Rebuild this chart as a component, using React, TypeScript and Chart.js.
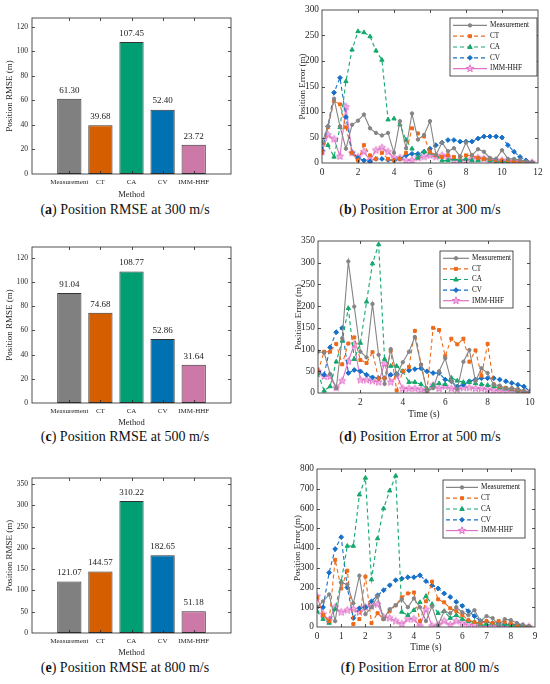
import { useEffect, useRef } from 'react';
import { Chart, registerables } from 'chart.js';

Chart.register(...registerables);

// ---------- data ----------
const methods = ['Measurement', 'CT', 'CA', 'CV', 'IMM-HHF'];
const rmse300 = [61.3, 39.68, 107.45, 52.4, 23.72];
const rmse500 = [91.04, 74.68, 108.77, 52.86, 31.64];
const rmse800 = [121.07, 144.57, 310.22, 182.65, 51.18];

const time300 = [0, 0.33, 0.67, 1, 1.33, 1.67, 2, 2.33, 2.67, 3, 3.33, 3.67, 4, 4.33, 4.67, 5, 5.33, 5.67, 6, 6.33, 6.67, 7, 7.33, 7.67, 8, 8.33, 8.67, 9, 9.33, 9.67, 10, 10.33, 10.67, 11, 11.33, 11.67];
const meas300 = [39, 72, 126, 72, 28, 75, 83, 95, 68, 59, 54, 59, 20, 82, 29, 97, 46, 55, 82, 16, 40, 23, 29, 13, 40, 15, 27, 22, 10, 8, 25, 8, 8, 6, 3, 1];
const ct300 = [20, 70, 122, 115, 70, 20, 5, 35, 15, 8, 20, 8, 5, 8, 20, 68, 58, 52, 22, 15, 12, 15, 12, 12, 15, 15, 10, 8, 8, 5, 5, 5, 3, 3, 2, 1];
const ca300 = [40, 35, 12, 70, 160, 222, 258, 256, 248, 220, 202, 85, 87, 75, 45, 28, 10, 22, 20, 15, 5, 5, 8, 5, 8, 5, 5, 8, 5, 3, 3, 2, 2, 2, 1, 1];
const cv300 = [25, 72, 138, 167, 90, 20, 10, 5, 3, 8, 8, 6, 5, 8, 15, 18, 18, 22, 28, 35, 40, 45, 45, 42, 42, 42, 48, 52, 52, 52, 50, 35, 22, 12, 5, 1];
const imm300 = [22, 55, 47, 13, 110, 20, 12, 22, 5, 25, 30, 22, 10, 10, 5, 5, 10, 12, 15, 12, 15, 12, 5, 5, 5, 8, 10, 8, 5, 5, 5, 4, 3, 2, 2, 1];

const time500 = [0, 0.29, 0.57, 0.86, 1.14, 1.43, 1.71, 2, 2.29, 2.57, 2.86, 3.14, 3.43, 3.71, 4, 4.29, 4.57, 4.86, 5.14, 5.43, 5.71, 6, 6.29, 6.57, 6.86, 7.14, 7.43, 7.71, 8, 8.29, 8.57, 8.86, 9.14, 9.43, 9.71, 10];
const meas500 = [95, 93, 44, 11, 126, 303, 199, 95, 82, 205, 88, 21, 101, 42, 71, 95, 129, 65, 4, 11, 50, 80, 27, 9, 72, 99, 27, 57, 46, 19, 17, 11, 11, 9, 5, 2];
const ct500 = [50, 95, 95, 113, 66, 114, 128, 76, 69, 94, 33, 34, 97, 6, 50, 60, 143, 65, 4, 150, 145, 85, 125, 112, 125, 72, 98, 40, 113, 20, 15, 12, 10, 8, 3, 1];
const ca500 = [45, 5, 15, 72, 120, 195, 78, 115, 210, 298, 342, 78, 62, 62, 50, 25, 25, 20, 10, 18, 22, 20, 35, 28, 25, 25, 22, 20, 18, 15, 12, 10, 8, 5, 3, 1];
const cv500 = [50, 42, 105, 140, 150, 46, 53, 50, 42, 36, 34, 34, 42, 44, 50, 52, 55, 57, 50, 46, 46, 31, 27, 15, 19, 27, 31, 34, 34, 34, 31, 27, 23, 19, 15, 4];
const imm500 = [50, 38, 38, 12, 28, 73, 112, 30, 30, 28, 25, 68, 25, 40, 10, 10, 10, 8, 5, 18, 10, 15, 10, 8, 12, 12, 10, 10, 8, 6, 5, 5, 4, 3, 2, 1];

const time800 = [0, 0.25, 0.5, 0.75, 1, 1.25, 1.5, 1.75, 2, 2.25, 2.5, 2.75, 3, 3.25, 3.5, 3.75, 4, 4.25, 4.5, 4.75, 5, 5.25, 5.5, 5.75, 6, 6.25, 6.5, 6.75, 7, 7.25, 7.5, 7.75, 8, 8.25, 8.5, 8.75];
const meas800 = [100, 130, 165, 30, 225, 215, 120, 260, 65, 100, 155, 40, 90, 110, 140, 100, 145, 100, 30, 105, 10, 80, 70, 100, 75, 60, 85, 30, 55, 45, 10, 40, 35, 20, 10, 5];
const ct800 = [150, 60, 30, 340, 195, 285, 15, 40, 255, 20, 70, 40, 80, 110, 150, 170, 175, 30, 130, 230, 140, 125, 95, 80, 60, 35, 25, 20, 30, 20, 30, 25, 20, 10, 5, 2];
const ca800 = [80, 40, 20, 90, 230, 410, 410, 670, 755, 240, 448, 600, 690, 765, 76, 60, 85, 125, 156, 115, 70, 80, 45, 60, 40, 30, 25, 15, 15, 20, 15, 15, 10, 8, 5, 2];
const cv800 = [100, 100, 275, 395, 455, 200, 45, 95, 100, 130, 160, 186, 211, 237, 245, 252, 252, 262, 232, 211, 195, 170, 152, 127, 107, 80, 55, 30, 25, 20, 20, 15, 15, 12, 10, 3];
const imm800 = [155, 65, 35, 100, 75, 85, 90, 75, 100, 105, 115, 50, 45, 30, 15, 40, 40, 5, 90, 5, 10, 30, 10, 30, 20, 10, 10, 5, 5, 8, 5, 3, 8, 5, 3, 1];

// ---------- styling ----------
const FONT = '"Liberation Serif", "Times New Roman", serif';
const INK = '#262626';
const barColors = ['#808080', '#D55E00', '#009E73', '#0072B2', '#CC79A7'];
const lineStyles = [
  { color: '#858585', dash: [] as number[], point: 'circle', r: 1.7 },
  { color: '#EE6A1A', dash: [4, 3], point: 'rect', r: 2.1 },
  { color: '#14A86C', dash: [4, 3], point: 'triangle', r: 2.5 },
  { color: '#1670C8', dash: [4, 3], point: 'rectRot', r: 2.4 },
  { color: '#E070C8', dash: [] as number[], point: 'star', r: 3.8 },
];

function starPath(g: CanvasRenderingContext2D, cx: number, cy: number, r: number) {
  g.beginPath();
  for (let k = 0; k < 10; k++) {
    const rr = k % 2 ? r * 0.42 : r;
    const ang = -Math.PI / 2 + (k * Math.PI) / 5;
    const px = cx + rr * Math.cos(ang);
    const py = cy + rr * Math.sin(ang);
    if (k) g.lineTo(px, py);
    else g.moveTo(px, py);
  }
  g.closePath();
}

function makeStar(color: string, r: number) {
  const s = Math.ceil(r * 2 + 3);
  const c = document.createElement('canvas');
  c.width = s;
  c.height = s;
  const g = c.getContext('2d')!;
  starPath(g, s / 2, s / 2, r);
  g.fillStyle = 'rgba(240,180,225,0.6)';
  g.fill();
  g.strokeStyle = color;
  g.lineWidth = 1;
  g.stroke();
  return c;
}

function drawMarker(ctx: CanvasRenderingContext2D, style: string, x: number, y: number, r: number, color: string) {
  ctx.save();
  ctx.fillStyle = color;
  ctx.strokeStyle = color;
  ctx.lineWidth = 1;
  ctx.setLineDash([]);
  if (style === 'star') {
    starPath(ctx, x, y, r);
    ctx.fillStyle = 'rgba(240,180,225,0.6)';
    ctx.fill();
    ctx.stroke();
  } else {
    ctx.beginPath();
    if (style === 'circle') ctx.arc(x, y, r, 0, Math.PI * 2);
    else if (style === 'rect') ctx.rect(x - r * 0.72, y - r * 0.72, r * 1.44, r * 1.44);
    else if (style === 'triangle') {
      ctx.moveTo(x, y - r);
      ctx.lineTo(x + r * 0.9, y + r * 0.6);
      ctx.lineTo(x - r * 0.9, y + r * 0.6);
      ctx.closePath();
    } else {
      ctx.moveTo(x, y - r);
      ctx.lineTo(x + r, y);
      ctx.lineTo(x, y + r);
      ctx.lineTo(x - r, y);
      ctx.closePath();
    }
    ctx.fill();
    ctx.stroke();
  }
  ctx.restore();
}

// box around the axes with inward tick marks, MATLAB style
const framePlugin = {
  id: 'frame',
  afterDraw(chart: any) {
    const { ctx, chartArea: a } = chart;
    const xs = chart.scales.x;
    const ys = chart.scales.y;
    ctx.save();
    ctx.strokeStyle = INK;
    ctx.lineWidth = 0.8;
    ctx.setLineDash([]);
    ctx.strokeRect(a.left, a.top, a.right - a.left, a.bottom - a.top);
    ctx.beginPath();
    for (const t of xs.ticks) {
      const p = Math.round(xs.getPixelForValue(t.value)) + 0.5;
      if (p <= a.left + 1 || p >= a.right - 1) continue;
      ctx.moveTo(p, a.bottom);
      ctx.lineTo(p, a.bottom - 3);
      ctx.moveTo(p, a.top);
      ctx.lineTo(p, a.top + 3);
    }
    for (const t of ys.ticks) {
      const p = Math.round(ys.getPixelForValue(t.value)) + 0.5;
      if (p <= a.top + 1 || p >= a.bottom - 1) continue;
      ctx.moveTo(a.left, p);
      ctx.lineTo(a.left + 3, p);
      ctx.moveTo(a.right, p);
      ctx.lineTo(a.right - 3, p);
    }
    ctx.stroke();
    ctx.restore();
  },
};

const barLabelPlugin = {
  id: 'barLabels',
  afterDatasetsDraw(chart: any) {
    const ctx = chart.ctx;
    const meta = chart.getDatasetMeta(0);
    const data = chart.data.datasets[0].data;
    ctx.save();
    ctx.font = `9px ${FONT}`;
    ctx.fillStyle = '#1a1a1a';
    ctx.textAlign = 'center';
    ctx.textBaseline = 'bottom';
    meta.data.forEach((bar: any, i: number) => {
      ctx.fillText(data[i].y.toFixed(2), bar.x, bar.y - 4);
    });
    ctx.restore();
  },
};

function boxLegend(l: { dx: number; dy: number; w: number; h: number; sample: number }) {
  return {
    id: 'boxLegend',
    afterDraw(chart: any) {
      const { ctx, chartArea: a } = chart;
      const x0 = a.right - l.dx - l.w;
      const y0 = a.top + l.dy;
      ctx.save();
      ctx.fillStyle = '#fff';
      ctx.fillRect(x0, y0, l.w, l.h);
      ctx.strokeStyle = INK;
      ctx.lineWidth = 0.8;
      ctx.strokeRect(x0, y0, l.w, l.h);
      const rowH = (l.h - 4) / 5;
      lineStyles.forEach((s, i) => {
        const cy = y0 + 2 + rowH * (i + 0.5);
        const sx = x0 + 3;
        const ex = sx + l.sample;
        ctx.strokeStyle = s.color;
        ctx.lineWidth = 1.2;
        ctx.setLineDash(s.dash);
        ctx.beginPath();
        ctx.moveTo(sx, cy);
        ctx.lineTo(ex, cy);
        ctx.stroke();
        drawMarker(ctx, s.point, (sx + ex) / 2, cy, s.r, s.color);
        ctx.fillStyle = '#111';
        ctx.font = `7.2px ${FONT}`;
        ctx.textAlign = 'left';
        ctx.textBaseline = 'middle';
        ctx.fillText(methods[i], ex + 3, cy);
      });
      ctx.restore();
    },
  };
}

function barConfig(values: number[], yMax: number, yStep: number, pad: { top: number; right: number }, yW: number, xH: number): any {
  return {
    type: 'bar',
    data: {
      datasets: [
        {
          data: methods.map((_, i) => ({ x: i + 1, y: values[i] })),
          backgroundColor: barColors,
          borderColor: '#333',
          borderWidth: 1,
          borderSkipped: false,
          barPercentage: 0.78,
          categoryPercentage: 1,
        },
      ],
    },
    options: {
      responsive: true,
      maintainAspectRatio: false,
      animation: false,
      events: [],
      layout: { padding: { top: pad.top, right: pad.right, left: 0, bottom: 0 } },
      plugins: { legend: { display: false }, tooltip: { enabled: false } },
      scales: {
        x: {
          type: 'linear',
          min: -0.2,
          max: 6.2,
          offset: false,
          grid: { display: false, drawTicks: false },
          border: { display: false },
          afterBuildTicks: (s: any) => {
            s.ticks = methods.map((_, i) => ({ value: i + 1 }));
          },
          ticks: {
            autoSkip: false,
            maxRotation: 0,
            padding: 4,
            color: INK,
            font: { family: FONT, size: 7 },
            callback: (v: number) => methods[v - 1] ?? '',
          },
          title: { display: true, text: 'Method', color: INK, font: { family: FONT, size: 8.6 }, padding: 0 },
          afterFit: (s: any) => {
            s.height = xH;
          },
        },
        y: {
          min: 0,
          max: yMax,
          grid: { display: false, drawTicks: false },
          border: { display: false },
          ticks: { stepSize: yStep, includeBounds: false, padding: 4, color: INK, font: { family: FONT, size: 7.5 } },
          title: { display: true, text: 'Position RMSE (m)', color: INK, font: { family: FONT, size: 9 }, padding: 2 },
          afterFit: (s: any) => {
            s.width = yW;
          },
        },
      },
    },
    plugins: [barLabelPlugin, framePlugin],
  };
}

function lineConfig(
  times: number[],
  series: number[][],
  xMax: number,
  yMax: number,
  yStep: number,
  hideZero: boolean,
  legend: { dx: number; dy: number; w: number; h: number; sample: number },
  pad: { top: number; right: number },
  yW: number,
  xH: number,
): any {
  return {
    type: 'line',
    data: {
      datasets: series.map((vals, k) => {
        const s = lineStyles[k];
        return {
          label: methods[k],
          data: times.map((t, i) => ({ x: t, y: vals[i] })),
          borderColor: s.color,
          backgroundColor: s.color,
          borderWidth: 1.1,
          borderDash: s.dash,
          pointStyle: s.point === 'star' ? makeStar(s.color, s.r) : s.point,
          pointRadius: s.r,
          pointBorderWidth: 1,
          pointBackgroundColor: s.color,
          pointBorderColor: s.color,
          tension: 0,
          fill: false,
        };
      }),
    },
    options: {
      responsive: true,
      maintainAspectRatio: false,
      animation: false,
      events: [],
      layout: { padding: { top: pad.top, right: pad.right, left: 0, bottom: 0 } },
      plugins: { legend: { display: false }, tooltip: { enabled: false } },
      scales: {
        x: {
          type: 'linear',
          min: 0,
          max: xMax,
          grid: { display: false, drawTicks: false },
          border: { display: false },
          ticks: {
            stepSize: xMax > 9 ? 2 : 1,
            maxRotation: 0,
            padding: 4,
            color: INK,
            font: { family: FONT, size: 9.3 },
            callback: (v: number) => (hideZero && v === 0 ? '' : String(v)),
          },
          title: { display: true, text: 'Time (s)', color: INK, font: { family: FONT, size: 9.3 }, padding: 0 },
          afterFit: (s: any) => {
            s.height = xH;
          },
        },
        y: {
          min: 0,
          max: yMax,
          grid: { display: false, drawTicks: false },
          border: { display: false },
          ticks: { stepSize: yStep, padding: 3, color: INK, font: { family: FONT, size: 9.3 } },
          title: { display: true, text: 'Position Error (m)', color: INK, font: { family: FONT, size: 9 }, padding: 1 },
          afterFit: (s: any) => {
            s.width = yW;
          },
        },
      },
    },
    plugins: [framePlugin, boxLegend(legend)],
  };
}

function Panel({ left, top, width, height, make }: { left: number; top: number; width: number; height: number; make: () => any }) {
  const canvasRef = useRef<HTMLCanvasElement>(null);
  useEffect(() => {
    const chart = new Chart(canvasRef.current!, make());
    return () => chart.destroy();
  }, []);
  return (
    <div style={{ position: 'absolute', left, top, width, height }}>
      <canvas ref={canvasRef} />
    </div>
  );
}

function Caption({ cx, cy, tag, text }: { cx: number; cy: number; tag: string; text: string }) {
  return (
    <div
      style={{
        position: 'absolute',
        left: cx - 140,
        width: 280,
        top: cy - 9,
        textAlign: 'center',
        fontFamily: FONT,
        fontSize: 14,
        lineHeight: '18px',
        color: '#111',
        whiteSpace: 'nowrap',
      }}
    >
      (<b>{tag}</b>) {text}
    </div>
  );
}

export default function App() {
  return (
    <div style={{ position: 'absolute', left: 0, top: 0, width: 550, height: 684, background: '#fff', overflow: 'hidden' }}>
      <Panel left={2} top={0} width={248} height={200} make={() => barConfig(rmse300, 127, 20, { top: 18, right: 19 }, 30, 26)} />
      <Panel left={2} top={229} width={248} height={199} make={() => barConfig(rmse500, 129, 20, { top: 18, right: 19 }, 30, 25)} />
      <Panel left={2} top={460} width={248} height={198} make={() => barConfig(rmse800, 364, 50, { top: 18, right: 19 }, 30, 25)} />

      <Panel
        left={296}
        top={0}
        width={254}
        height={190}
        make={() =>
          lineConfig(time300, [meas300, ct300, ca300, cv300, imm300], 12, 300, 50, false, { dx: 1, dy: 8, w: 87, h: 58, sample: 34 }, { top: 10, right: 12 }, 26, 27)
        }
      />
      <Panel
        left={292}
        top={230}
        width={258}
        height={190}
        make={() =>
          lineConfig(time500, [meas500, ct500, ca500, cv500, imm500], 10, 350, 50, true, { dx: 17, dy: 10, w: 73, h: 57, sample: 26 }, { top: 11, right: 20 }, 26, 27)
        }
      />
      <Panel
        left={291}
        top={458}
        width={259}
        height={195}
        make={() =>
          lineConfig(time800, [meas800, ct800, ca800, cv800, imm800], 9, 800, 100, false, { dx: 10, dy: 11, w: 82, h: 58, sample: 32 }, { top: 11, right: 15 }, 26, 26)
        }
      />

      <Caption cx={125} cy={210} tag="a" text="Position RMSE at 300 m/s" />
      <Caption cx={420} cy={210} tag="b" text="Position Error at 300 m/s" />
      <Caption cx={125} cy={437} tag="c" text="Position RMSE at 500 m/s" />
      <Caption cx={420} cy={437} tag="d" text="Position Error at 500 m/s" />
      <Caption cx={125} cy={668} tag="e" text="Position RMSE at 800 m/s" />
      <Caption cx={420} cy={668} tag="f" text="Position Error at 800 m/s" />
    </div>
  );
}
